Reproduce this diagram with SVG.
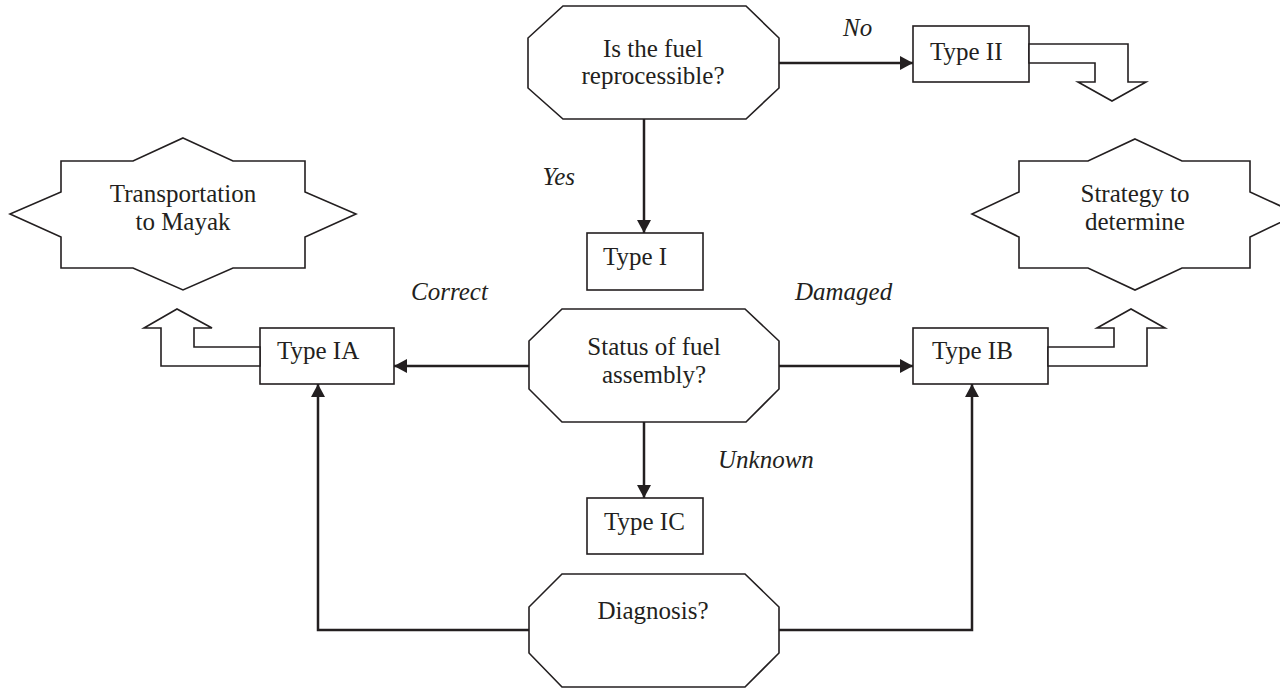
<svg xmlns="http://www.w3.org/2000/svg" width="1280" height="689" viewBox="0 0 1280 689">
  <defs>
    <style>
      .shape { fill: #ffffff; stroke: #231f20; stroke-width: 1.6; stroke-linejoin: miter; }
      .wire { fill: none; stroke: #231f20; stroke-width: 2.5; }
      .txt { font-family: "Liberation Serif", "Times New Roman", serif; font-size: 25px; fill: #231f20; }
      .mid { text-anchor: middle; }
      .lbl { font-family: "Liberation Serif", "Times New Roman", serif; font-size: 25px; font-style: italic; fill: #231f20; }
    </style>
    <marker id="head" viewBox="0 0 13 14" refX="13" refY="7" markerWidth="13" markerHeight="14" markerUnits="userSpaceOnUse" orient="auto">
      <path d="M0,0 L13,7 L0,14 Z" fill="#231f20"/>
    </marker>
  </defs>

  <rect width="1280" height="689" fill="#ffffff"/>

  <!-- connectors -->
  <g id="connectors">
    <path class="wire" d="M779,63 H913" marker-end="url(#head)"/>
    <path class="wire" d="M644,119 V233" marker-end="url(#head)"/>
    <path class="wire" d="M529,366 H394" marker-end="url(#head)"/>
    <path class="wire" d="M779,366 H913" marker-end="url(#head)"/>
    <path class="wire" d="M644,422 V498" marker-end="url(#head)"/>
    <path class="wire" d="M529,630 H318 V384" marker-end="url(#head)"/>
    <path class="wire" d="M779,630 H972 V384" marker-end="url(#head)"/>
  </g>

  <!-- branch labels -->
  <g id="labels">
    <text class="lbl" x="843" y="36">No</text>
    <text class="lbl" x="575" y="185" text-anchor="end">Yes</text>
    <text class="lbl" x="411" y="300">Correct</text>
    <text class="lbl" x="795" y="300">Damaged</text>
    <text class="lbl" x="718" y="468">Unknown</text>
  </g>

  <!-- decision: reprocessible -->
  <g id="q-reprocessible">
    <polygon class="shape" points="563,6 746,6 779,38 779,88 746,119 563,119 528,88 528,38"/>
    <text class="txt mid" x="653" y="57">Is the fuel</text>
    <text class="txt mid" x="653" y="84">reprocessible?</text>
  </g>

  <!-- Type II with outgoing block arrow -->
  <g id="type-ii">
    <rect class="shape" x="913" y="26" width="116" height="56"/>
    <text class="txt" x="930" y="60">Type II</text>
    <polygon class="shape" points="1029,44 1128,44 1128,82 1146,82 1112,101 1078,82 1095,82 1095,63 1029,63"/>
  </g>

  <!-- Type I -->
  <g id="type-i">
    <rect class="shape" x="587" y="233" width="116" height="57"/>
    <text class="txt" x="603" y="265">Type I</text>
  </g>

  <!-- outcome: transportation -->
  <g id="transport">
    <polygon class="shape" points="183,138 233,161 305,161 305,192 356,214 305,237 305,268 233,268 183,290 133,268 61,268 61,237 10,214 61,192 61,161 133,161"/>
    <text class="txt mid" x="183" y="202">Transportation</text>
    <text class="txt mid" x="183" y="230">to Mayak</text>
  </g>

  <!-- outcome: strategy -->
  <g id="strategy">
    <polygon class="shape" points="1135,139 1182,161 1250,161 1250,192 1298,214 1250,237 1250,268 1182,268 1135,290 1088,268 1019,268 1019,237 972,214 1019,192 1019,161 1088,161"/>
    <text class="txt mid" x="1135" y="202">Strategy to</text>
    <text class="txt mid" x="1135" y="230">determine</text>
  </g>

  <!-- decision: assembly status -->
  <g id="q-status">
    <polygon class="shape" points="562,309 745,309 779,341 779,389 746,422 562,422 529,389 529,341"/>
    <text class="txt mid" x="654" y="355">Status of fuel</text>
    <text class="txt mid" x="654" y="383">assembly?</text>
  </g>

  <!-- Type IA with block arrow -->
  <g id="type-ia">
    <rect class="shape" x="260" y="328" width="134" height="56"/>
    <text class="txt" x="277" y="359">Type IA</text>
    <polygon class="shape" points="260,366 161,366 161,328 144,328 177,309 212,328 194,328 194,347 260,347"/>
  </g>

  <!-- Type IB with block arrow -->
  <g id="type-ib">
    <rect class="shape" x="913" y="328" width="135" height="56"/>
    <text class="txt" x="932" y="359">Type IB</text>
    <polygon class="shape" points="1048,347 1114,347 1114,328 1097,328 1131,309 1165,328 1147,328 1147,366 1048,366"/>
  </g>

  <!-- Type IC -->
  <g id="type-ic">
    <rect class="shape" x="587" y="498" width="116" height="56"/>
    <text class="txt" x="604" y="530">Type IC</text>
  </g>

  <!-- decision: diagnosis -->
  <g id="q-diagnosis">
    <polygon class="shape" points="562,574 745,574 779,607 779,653 745,687 562,687 529,653 529,607"/>
    <text class="txt mid" x="653" y="619">Diagnosis?</text>
  </g>
</svg>
